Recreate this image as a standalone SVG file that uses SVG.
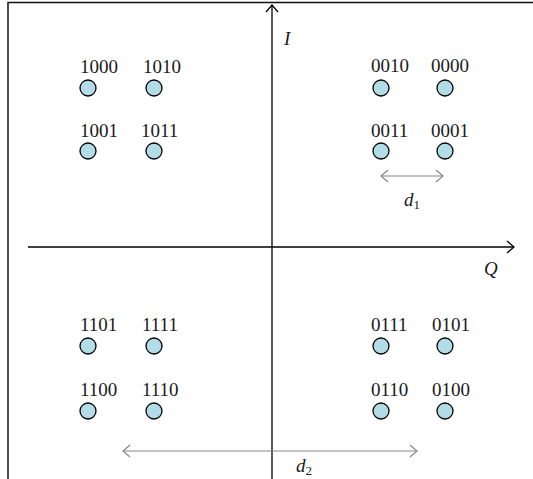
<svg xmlns="http://www.w3.org/2000/svg" width="533" height="479" viewBox="0 0 533 479">
<style>
.pt{fill:#b3dde6;stroke:#000;stroke-width:1.3}
.lbl{font-family:"Liberation Serif",serif;font-size:19px;fill:#1a1a1a}
.ax{stroke:#000;stroke-width:1.3;fill:none}
.dim{stroke:#888;stroke-width:1.2;fill:none}
.it{font-family:"Liberation Serif",serif;font-style:italic;font-size:19px;fill:#1a1a1a}
</style>
<defs>
<marker id="ah" viewBox="-8 -7 9 14" refX="0" refY="0" markerWidth="9" markerHeight="14" markerUnits="userSpaceOnUse" orient="auto-start-reverse">
<path d="M-7,-6 L0,0 L-7,6" fill="none" stroke="#000" stroke-width="1.3"/>
</marker>
<marker id="ag" viewBox="-8 -7 9 14" refX="0" refY="0" markerWidth="9" markerHeight="14" markerUnits="userSpaceOnUse" orient="auto-start-reverse">
<path d="M-7,-6 L0,0 L-7,6" fill="none" stroke="#888" stroke-width="1.2"/>
</marker>
</defs>
<rect width="533" height="479" fill="#fff"/>
<path d="M8,479 V2.5 H533" fill="none" stroke="#111" stroke-width="1.5"/>
<g id="connectors">
<line class="ax" x1="28" y1="247" x2="514" y2="247" marker-end="url(#ah)"/>
<line class="ax" x1="272" y1="479" x2="272" y2="5" marker-end="url(#ah)"/>
<line class="dim" x1="381" y1="176" x2="443" y2="176" marker-start="url(#ag)" marker-end="url(#ag)"/>
<line class="dim" x1="123" y1="451" x2="417" y2="451" marker-start="url(#ag)" marker-end="url(#ag)"/>
</g>
<g id="axis-labels">
<text class="it" x="284" y="45">I</text>
<text class="it" x="484" y="275">Q</text>
<text class="it" x="404" y="206">d<tspan font-size="13" font-style="normal" dy="3">1</tspan></text>
<text class="it" x="296" y="472">d<tspan font-size="13" font-style="normal" dy="3">2</tspan></text>
</g>
<g id="n1000"><text class="lbl" x="80" y="73">1000</text><circle class="pt" cx="88" cy="88" r="8"/></g>
<g id="n1010"><text class="lbl" x="143" y="73">1010</text><circle class="pt" cx="154" cy="88" r="8"/></g>
<g id="n1001"><text class="lbl" x="80" y="137">1001</text><circle class="pt" cx="88" cy="151" r="8"/></g>
<g id="n1011"><text class="lbl" x="141" y="137">1011</text><circle class="pt" cx="154" cy="151" r="8"/></g>
<g id="n0010"><text class="lbl" x="371" y="72">0010</text><circle class="pt" cx="381" cy="88" r="8"/></g>
<g id="n0000"><text class="lbl" x="431" y="72">0000</text><circle class="pt" cx="445" cy="88" r="8"/></g>
<g id="n0011"><text class="lbl" x="371" y="137">0011</text><circle class="pt" cx="381" cy="151" r="8"/></g>
<g id="n0001"><text class="lbl" x="431" y="137">0001</text><circle class="pt" cx="445" cy="151" r="8"/></g>
<g id="n1101"><text class="lbl" x="80" y="331">1101</text><circle class="pt" cx="88" cy="346" r="8"/></g>
<g id="n1111"><text class="lbl" x="142" y="331">1111</text><circle class="pt" cx="154" cy="346" r="8"/></g>
<g id="n1100"><text class="lbl" x="80" y="396">1100</text><circle class="pt" cx="88" cy="411" r="8"/></g>
<g id="n1110"><text class="lbl" x="142" y="396">1110</text><circle class="pt" cx="154" cy="411" r="8"/></g>
<g id="n0111"><text class="lbl" x="371" y="331">0111</text><circle class="pt" cx="381" cy="346" r="8"/></g>
<g id="n0101"><text class="lbl" x="432" y="331">0101</text><circle class="pt" cx="445" cy="346" r="8"/></g>
<g id="n0110"><text class="lbl" x="371" y="396">0110</text><circle class="pt" cx="381" cy="411" r="8"/></g>
<g id="n0100"><text class="lbl" x="432" y="396">0100</text><circle class="pt" cx="445" cy="411" r="8"/></g>
</svg>
